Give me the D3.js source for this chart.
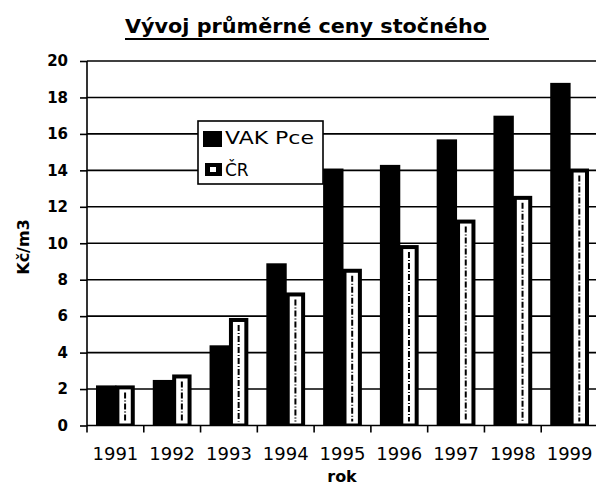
<!DOCTYPE html>
<html>
<head>
<meta charset="utf-8">
<script src="https://cdn.jsdelivr.net/npm/d3@7"></script>
<style>
  body { margin: 0; background: #fff; }
  text { font-family: "DejaVu Sans", sans-serif; }
</style>
</head>
<body>
<script>
const years = ["1991", "1992", "1993", "1994", "1995", "1996", "1997", "1998", "1999"];
const vakPce = [2.2, 2.5, 4.4, 8.9, 14.1, 14.3, 15.7, 17.0, 18.8];
const cr = [2.2, 2.8, 5.9, 7.3, 8.6, 9.9, 11.3, 12.6, 14.1];
const yTicks = [0, 2, 4, 6, 8, 10, 12, 14, 16, 18, 20];

const width = 596, height = 487;
const margin = { top: 61, right: -2, bottom: 61.5, left: 87 };
const plotW = width - margin.left - margin.right;
const plotH = height - margin.top - margin.bottom;
const font = "DejaVu Sans, sans-serif";

const svg = d3.select("body").append("svg")
    .attr("width", width)
    .attr("height", height);

// title with underline
svg.append("text")
    .attr("x", 125)
    .attr("y", 33)
    .attr("font-size", "19px")
    .attr("font-weight", "bold")
    .attr("textLength", 362)
    .attr("lengthAdjust", "spacingAndGlyphs")
    .text("Vývoj průměrné ceny stočného");
svg.append("line")
    .attr("x1", 125).attr("x2", 489)
    .attr("y1", 39).attr("y2", 39)
    .attr("stroke", "#000")
    .attr("stroke-width", 2);

const g = svg.append("g")
    .attr("transform", "translate(" + margin.left + "," + margin.top + ")");

const x = d3.scaleBand().domain(years).range([0, plotW]).padding(0);
const x1 = d3.scaleBand().domain(["vak", "cr"])
    .range([9, x.bandwidth() - 9]).padding(0);
const y = d3.scaleLinear().domain([0, 20]).range([plotH, 0]);

// gridlines
g.append("g")
    .selectAll("line")
    .data(yTicks.filter(d => d > 0))
    .enter().append("line")
    .attr("x1", 0)
    .attr("x2", plotW)
    .attr("y1", d => y(d))
    .attr("y2", d => y(d))
    .attr("stroke", "#000")
    .attr("stroke-width", 1.6);

// y axis
const yAxis = g.append("g")
    .call(d3.axisLeft(y).tickValues(yTicks).tickSize(7).tickPadding(12));
yAxis.select(".domain").attr("stroke-width", 1.6).attr("d", "M0," + plotH + "V0");
yAxis.selectAll(".tick line").attr("stroke-width", 1.6);
yAxis.selectAll("text")
    .attr("font-size", "15px")
    .attr("font-weight", "bold")
    .attr("font-family", font)
    .attr("fill", "#000");

// bars
const groups = g.selectAll("g.year")
    .data(years)
    .enter().append("g")
    .attr("class", "year")
    .attr("transform", d => "translate(" + x(d) + ",0)");

groups.append("rect")
    .attr("x", x1("vak"))
    .attr("y", (d, i) => y(vakPce[i]))
    .attr("width", x1.bandwidth() + 1)
    .attr("height", (d, i) => plotH - y(vakPce[i]))
    .attr("fill", "#000");

groups.append("rect")
    .attr("x", x1("cr"))
    .attr("y", (d, i) => y(cr[i]))
    .attr("width", x1.bandwidth())
    .attr("height", (d, i) => plotH - y(cr[i]))
    .attr("fill", "#000");

groups.append("rect")
    .attr("x", x1("cr") + 4)
    .attr("y", (d, i) => y(cr[i]) + 4)
    .attr("width", x1.bandwidth() - 8)
    .attr("height", (d, i) => Math.max(0, plotH - y(cr[i]) - 6))
    .attr("fill", "#fff");

groups.append("line")
    .attr("x1", x1("cr") + x1.bandwidth() / 2)
    .attr("x2", x1("cr") + x1.bandwidth() / 2)
    .attr("y1", (d, i) => y(cr[i]) + 7)
    .attr("y2", plotH - 4)
    .attr("stroke", "#000")
    .attr("stroke-width", 2)
    .attr("stroke-dasharray", "6,2,1,2");

// x axis
const xAxis = g.append("g")
    .attr("transform", "translate(0," + plotH + ")")
    .call(d3.axisBottom(x).tickSize(0).tickPadding(22));
xAxis.select(".domain").attr("stroke-width", 1.6).attr("d", "M0,0H" + plotW);
xAxis.selectAll("text")
    .attr("font-size", "18px")
    .attr("font-family", font)
    .attr("fill", "#000");

// category separator ticks
g.append("g")
    .selectAll("line")
    .data(years)
    .enter().append("line")
    .attr("x1", d => x(d))
    .attr("x2", d => x(d))
    .attr("y1", plotH)
    .attr("y2", plotH + 7)
    .attr("stroke", "#000")
    .attr("stroke-width", 1.6);

// axis titles
svg.append("text")
    .attr("x", 342)
    .attr("y", 482)
    .attr("text-anchor", "middle")
    .attr("font-size", "16px")
    .attr("font-weight", "bold")
    .text("rok");

svg.append("text")
    .attr("transform", "translate(29,247)rotate(-90)")
    .attr("text-anchor", "middle")
    .attr("font-size", "16px")
    .attr("font-weight", "bold")
    .text("Kč/m3");

// legend
const legend = svg.append("g").attr("transform", "translate(198,121)");
legend.append("rect")
    .attr("width", 125)
    .attr("height", 63)
    .attr("fill", "#fff")
    .attr("stroke", "#000")
    .attr("stroke-width", 1.6);

legend.append("rect")
    .attr("x", 5).attr("y", 10)
    .attr("width", 19).attr("height", 16)
    .attr("fill", "#000");
legend.append("text")
    .attr("x", 27).attr("y", 23)
    .attr("font-size", "17px")
    .attr("textLength", 89)
    .attr("lengthAdjust", "spacingAndGlyphs")
    .text("VAK Pce");

legend.append("rect")
    .attr("x", 7).attr("y", 42)
    .attr("width", 17).attr("height", 13)
    .attr("fill", "#000");
legend.append("rect")
    .attr("x", 12).attr("y", 46)
    .attr("width", 6).attr("height", 5)
    .attr("fill", "#fff");
legend.append("text")
    .attr("x", 27).attr("y", 55)
    .attr("font-size", "17px")
    .text("ČR");
</script>
</body>
</html>
